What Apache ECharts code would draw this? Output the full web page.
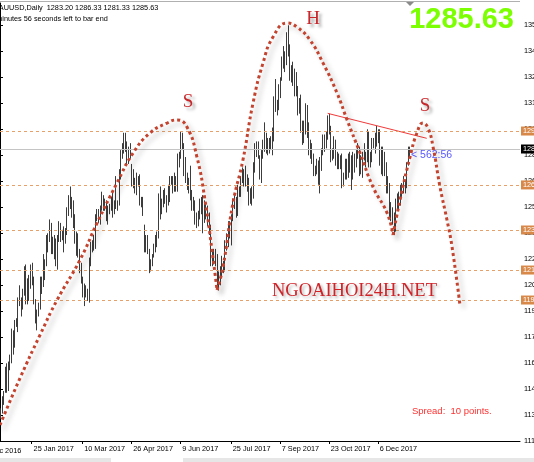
<!DOCTYPE html>
<html>
<head>
<meta charset="utf-8">
<script src="https://cdn.jsdelivr.net/npm/echarts@6/dist/echarts.min.js"></script>
<style>
  html, body { margin: 0; padding: 0; background: #fff; }
  #chart { width: 534px; height: 462px; }
</style>
</head>
<body>
<div id="chart"></div>
<script>
// daily bars, index 0 = first visible bar (late Dec 2016) ... 259 = current bar
const lows = [
  1130,1133,1138,1145,1145,1146,1158,1162,1167,1171,
  1183,1180,1195,1189,1193,1201,1196,1196,1198,1205,
  1207,1196,1185,1181,1189,1193,1202,1206,1210,1218,
  1226,1232,1225,1225,1222,1218,1216,1232,1232,1233,
  1226,1231,1236,1247,1251,1246,1240,1231,1224,1223,
  1214,1208,1200,1195,1200,1198,1197,1218,1226,1227,
  1228,1244,1243,1242,1250,1250,1250,1244,1242,1248,
  1250,1246,1248,1251,1250,1253,1268,1280,1283,1284,
  1276,1277,1280,1264,1263,1260,1259,1264,1253,1252,
  1247,1226,1226,1225,1214,1215,1218,1223,1226,1229,
  1234,1245,1248,1252,1254,1249,1253,1255,1265,1260,
  1261,1261,1261,1275,1280,1285,1270,1266,1262,1260,
  1256,1250,1250,1242,1240,1241,1245,1248,1237,1243,
  1245,1241,1236,1218,1218,1219,1218,1205,1204,1207,
  1212,1214,1215,1227,1229,1234,1230,1244,1251,1246,
  1247,1258,1258,1266,1264,1264,1261,1253,1254,1253,
  1257,1272,1281,1280,1268,1266,1280,1284,1283,1282,
  1283,1285,1282,1290,1307,1305,1308,1315,1325,1332,
  1330,1334,1339,1325,1324,1322,1316,1316,1305,1306,
  1295,1288,1289,1294,1292,1282,1280,1277,1270,1270,
  1271,1265,1260,1273,1282,1284,1286,1291,1294,1278,
  1279,1280,1276,1274,1274,1274,1263,1264,1268,1268,
  1269,1272,1262,1268,1272,1275,1280,1270,1271,1269,
  1279,1275,1278,1275,1275,1278,1286,1283,1287,1289,
  1276,1271,1270,1270,1260,1260,1245,1244,1242,1236,
  1238,1251,1250,1253,1258,1260,1260,1263,1276,1281
];
const highs = [
  1136,1143,1146,1160,1162,1163,1167,1182,1181,1187,
  1188,1200,1207,1200,1205,1218,1219,1211,1213,1219,
  1220,1212,1199,1193,1197,1212,1212,1225,1222,1236,
  1237,1245,1243,1235,1236,1234,1236,1244,1243,1239,
  1241,1240,1252,1259,1264,1258,1256,1248,1238,1237,
  1228,1220,1212,1208,1207,1205,1223,1232,1233,1236,
  1248,1251,1251,1253,1261,1259,1257,1256,1253,1254,
  1258,1262,1256,1270,1256,1274,1285,1289,1295,1295,
  1290,1287,1289,1277,1274,1269,1272,1270,1271,1258,
  1258,1242,1236,1236,1228,1222,1225,1231,1236,1238,
  1260,1264,1257,1262,1263,1259,1265,1270,1270,1270,
  1272,1270,1283,1284,1296,1295,1289,1281,1272,1269,
  1276,1262,1258,1256,1249,1250,1257,1258,1259,1256,
  1254,1253,1249,1242,1227,1228,1228,1225,1215,1218,
  1224,1221,1233,1237,1244,1244,1248,1257,1259,1258,
  1265,1264,1270,1275,1274,1276,1271,1269,1263,1264,
  1278,1289,1290,1290,1282,1285,1291,1301,1295,1292,
  1292,1293,1298,1316,1326,1314,1323,1327,1339,1345,
  1342,1353,1357,1346,1334,1336,1332,1330,1322,1315,
  1317,1302,1302,1312,1311,1301,1291,1289,1283,1276,
  1280,1279,1281,1286,1294,1294,1296,1305,1306,1299,
  1286,1293,1291,1284,1283,1282,1283,1272,1280,1280,
  1283,1284,1282,1284,1283,1285,1289,1287,1282,1284,
  1289,1284,1297,1296,1284,1292,1292,1295,1299,1297,
  1297,1287,1287,1284,1278,1270,1266,1255,1252,1249,
  1257,1260,1261,1265,1266,1270,1268,1278,1287,1287
];

const lastPrice = 1285.63;
const levels = [1296.0, 1264.9, 1238.9, 1215.8, 1198.5];
const priceTicks = [1117.17, 1132.17, 1147.17, 1162.17, 1177.17, 1192.17, 1207.17, 1222.17,
  1237.17, 1252.17, 1267.17, 1282.17, 1297.17, 1312.17, 1327.17, 1342.17, 1357.17];
const dateTickIdx = [20, 52, 83, 114, 146, 177, 208, 239];
const dateTickText = ['25 Jan 2017', '10 Mar 2017', '26 Apr 2017', '9 Jun 2017',
  '25 Jul 2017', '7 Sep 2017', '23 Oct 2017', '6 Dec 2017'];

// hand drawn head & shoulders outline, [bar index, price]
const leftShoulder = [[0, 1126.4], [12.7, 1153.5], [25.3, 1178.3], [36.1, 1198.5], [50.6, 1221.6],
  [61.4, 1242.9], [74.0, 1266.0], [84.2, 1283.3], [94.9, 1294.9], [105.7, 1300.6], [112.0, 1302.4],
  [118.3, 1298.3], [124.6, 1281.0], [129.7, 1256.2], [134.1, 1227.4], [137.3, 1204.3]];
const head = [[137.3, 1204.3], [141.1, 1217.6], [147.4, 1254.5], [153.7, 1279.3], [160.1, 1312.2],
  [166.4, 1335.2], [172.7, 1350.2], [181.6, 1358.3], [187.9, 1356.0], [196.1, 1348.5], [204.4, 1335.2],
  [213.2, 1318.0], [219.6, 1302.4], [227.8, 1283.3], [236.0, 1263.7], [244.9, 1248.7], [248.7, 1236.0]];
const rightShoulder = [[248.7, 1236.0], [253.1, 1256.2], [259.4, 1281.0], [263.8, 1294.9],
  [267.6, 1300.6], [270.8, 1297.7], [274.0, 1286.8], [278.4, 1263.7], [282.8, 1244.7],
  [286.0, 1229.2], [291.0, 1195.6]];
const neckTrend = [[207.3, 1306.2], [270.0, 1291.8]];

const mtFont = 'Liberation Sans';
const chart = echarts.init(document.getElementById('chart'));

const dotted = {
  color: '#c3432f', width: 3, type: [3, 3],
  shadowColor: 'rgba(0,0,0,0.28)', shadowBlur: 5, shadowOffsetX: 4, shadowOffsetY: 4
};
const curve = (data) => ({
  type: 'line', data: data, smooth: 0.5, symbol: 'none', silent: true,
  lineStyle: dotted, z: 5
});
const letter = (txt, x, y) => ({
  type: 'text', x: x, y: y, z: 10,
  style: {
    text: txt, font: '19px "Liberation Serif"', fill: '#c8262a', textAlign: 'center',
    textShadowColor: 'rgba(0,0,0,0.35)', textShadowBlur: 3, textShadowOffsetX: 3, textShadowOffsetY: 3
  }
});

const option = {
  animation: false,
  backgroundColor: '#fff',
  grid: { left: 0, right: 14, top: 3, bottom: 21, containLabel: false, outerBoundsMode: 'none' },
  xAxis: {
    type: 'value', min: 0, max: 329,
    splitLine: { show: false },
    axisLine: { lineStyle: { color: '#000', width: 1 } },
    axisTick: { customValues: dateTickIdx, length: 3, lineStyle: { color: '#000' } },
    axisLabel: {
      customValues: dateTickIdx, align: 'left', margin: 4, padding: [0, 0, 0, 2],
      fontFamily: mtFont, fontSize: 7.3, color: '#000',
      formatter: (v) => dateTickText[dateTickIdx.indexOf(v)]
    }
  },
  yAxis: {
    type: 'value', position: 'right', min: 1117.17, max: 1369.86,
    splitLine: { show: false },
    axisLine: { show: true, lineStyle: { color: '#000', width: 1 } },
    axisTick: { show: true, customValues: priceTicks, length: 3, lineStyle: { color: '#000' } },
    axisLabel: {
      customValues: priceTicks, margin: 4, fontFamily: mtFont, fontSize: 7.3, color: '#000',
      formatter: (v) => v.toFixed(2)
    }
  },
  series: [
    {
      type: 'custom',
      silent: true,
      data: highs.map((h, i) => [i, lows[i], h]),
      renderItem: (params, api) => {
        const lo = api.coord([api.value(0), api.value(1)]);
        const hi = api.coord([api.value(0), api.value(2)]);
        const x = Math.round(lo[0]) + 0.5;
        return {
          type: 'line',
          shape: { x1: x, y1: lo[1], x2: x, y2: hi[1] },
          style: { stroke: '#3c3c3c', lineWidth: 1 }
        };
      },
      z: 3
    },
    {
      type: 'line', data: neckTrend, symbol: 'none', silent: true, z: 4,
      lineStyle: { color: '#f03a3a', width: 1 },
      markLine: {
        silent: true, symbol: ['none', 'none'], animation: false,
        data: levels.map((v) => ({
          yAxis: v,
          lineStyle: { color: '#e6a06a', type: [3, 3], width: 1 },
          label: { backgroundColor: '#d8894a', color: '#fff' }
        })).concat([{
          yAxis: lastPrice,
          lineStyle: { color: '#c4c4c4', type: 'solid', width: 1 },
          label: { backgroundColor: '#000', color: '#fff' }
        }]),
        label: {
          position: 'end', distance: 1, padding: [1, 2, 1, 2],
          fontFamily: mtFont, fontSize: 7.3,
          formatter: (p) => p.value.toFixed(2)
        }
      }
    },
    curve(leftShoulder),
    curve(head),
    curve(rightShoulder)
  ],
  graphic: [
    { type: 'line', shape: { x1: 0, y1: 1.5, x2: 520, y2: 1.5 }, style: { stroke: '#b0b0b0', lineWidth: 1 } },
    { type: 'polygon', shape: { points: [[406, 2], [414, 2], [410, 6]] }, style: { fill: '#8a8a8a' } },
    { type: 'text', x: -6, y: 4, style: { text: 'XAUUSD,Daily  1283.20 1286.33 1281.33 1285.63',
      font: '7.3px "Liberation Sans"', fill: '#000' } },
    { type: 'text', x: -18, y: 15, style: { text: '562 minutes 56 seconds left to bar end',
      font: '7.3px "Liberation Sans"', fill: '#000' } },
    { type: 'text', x: 514, y: 5, z: 10, style: { text: '1285.63', textAlign: 'right',
      font: 'bold 29px "Liberation Sans"', fill: '#7cff00' } },
    letter('S', 188, 93),
    letter('H', 313, 10),
    letter('S', 425, 97),
    { type: 'text', x: 272, y: 282, z: 10, style: {
      text: 'NGOAIHOI24H.NET', font: '18.5px "Liberation Serif"', fill: '#cf2328',
      textShadowColor: 'rgba(0,0,0,0.3)', textShadowBlur: 3, textShadowOffsetX: 2, textShadowOffsetY: 2 } },
    { type: 'text', x: 412, y: 406, style: { text: 'Spread:  10 points.',
      font: '9.5px "Liberation Sans"', fill: '#ff3030' } },
    { type: 'text', x: 411, y: 150, style: { text: '< 562:56',
      font: '10.5px "Liberation Sans"', fill: '#5a5aff' } },
    { type: 'text', x: -16, y: 447, style: { text: '9 Dec 2016',
      font: '7.3px "Liberation Sans"', fill: '#000' } },
    { type: 'rect', shape: { x: 0, y: 458, width: 534, height: 4 }, style: { fill: '#e6e6e6' } },
    { type: 'rect', shape: { x: 111, y: 458, width: 72, height: 4 }, style: { fill: '#fff' } }
  ]
};

chart.setOption(option);
</script>
</body>
</html>
